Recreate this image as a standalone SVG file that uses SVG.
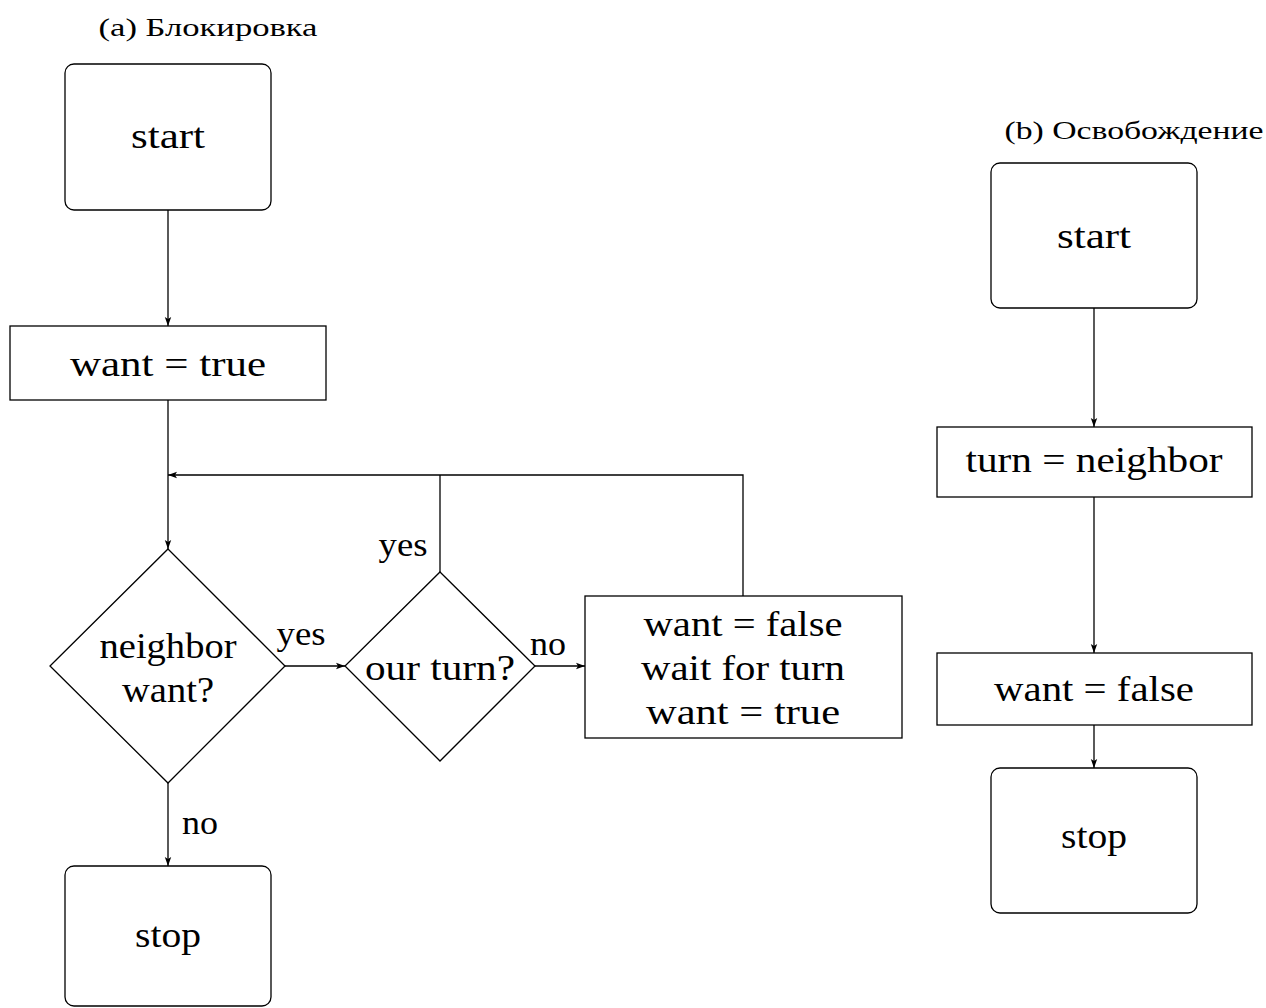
<svg xmlns="http://www.w3.org/2000/svg" width="1266" height="1008" viewBox="0 0 1266 1008">
  <style>
    .shape { fill: #ffffff; stroke: #000000; stroke-width: 1.3; }
    .edge { fill: none; stroke: #000000; stroke-width: 1.3; }
    .t { font-family: "Liberation Serif", "DejaVu Serif", serif; font-size: 36px; fill: #000000; text-anchor: middle; }
    .lbl { font-family: "Liberation Serif", "DejaVu Serif", serif; font-size: 34px; fill: #000000; text-anchor: middle; }
    .title { font-family: "Liberation Serif", "DejaVu Serif", serif; font-size: 26px; fill: #000000; text-anchor: middle; }
  </style>
  <defs>
    <marker id="tip" markerUnits="userSpaceOnUse" markerWidth="10" markerHeight="8" refX="9" refY="4" orient="auto">
      <path d="M0,0.8 L9,4 L0,7.2 L2,4 Z" fill="#000000"/>
    </marker>
  </defs>

  <rect width="1266" height="1008" fill="#ffffff"/>

  <!-- (a) locking flowchart -->
  <text class="title" x="208" y="36" textLength="219" lengthAdjust="spacingAndGlyphs">(a) Блокировка</text>

  <g id="connectors">
    <line class="edge" x1="168" y1="210" x2="168" y2="326" marker-end="url(#tip)"/>
    <line class="edge" x1="168" y1="400" x2="168" y2="549" marker-end="url(#tip)"/>
    <polyline class="edge" points="743,596 743,475 168,475" marker-end="url(#tip)"/>
    <line class="edge" x1="440" y1="572" x2="440" y2="475"/>
    <line class="edge" x1="285" y1="666" x2="345" y2="666" marker-end="url(#tip)"/>
    <line class="edge" x1="535" y1="666" x2="585" y2="666" marker-end="url(#tip)"/>
    <line class="edge" x1="168" y1="783" x2="168" y2="866" marker-end="url(#tip)"/>
    <line class="edge" x1="1094" y1="308" x2="1094" y2="427" marker-end="url(#tip)"/>
    <line class="edge" x1="1094" y1="497" x2="1094" y2="653" marker-end="url(#tip)"/>
    <line class="edge" x1="1094" y1="725" x2="1094" y2="768" marker-end="url(#tip)"/>
    <text class="lbl" x="403" y="556" textLength="49" lengthAdjust="spacingAndGlyphs">yes</text>
    <text class="lbl" x="301" y="645" textLength="49" lengthAdjust="spacingAndGlyphs">yes</text>
    <text class="lbl" x="548" y="655" textLength="36" lengthAdjust="spacingAndGlyphs">no</text>
    <text class="lbl" x="200" y="834" textLength="36" lengthAdjust="spacingAndGlyphs">no</text>
  </g>

  <g id="a-start">
    <rect class="shape" x="65" y="64" width="206" height="146" rx="9"/>
    <text class="t" x="168" y="148" textLength="74" lengthAdjust="spacingAndGlyphs">start</text>
  </g>
  <g id="a-want-true">
    <rect class="shape" x="10" y="326" width="316" height="74"/>
    <text class="t" x="168" y="376" textLength="196" lengthAdjust="spacingAndGlyphs">want = true</text>
  </g>
  <g id="a-neighbor-want">
    <polygon class="shape" points="168,549 285,666 168,783 50,666"/>
    <text class="t" x="168" y="658" textLength="137" lengthAdjust="spacingAndGlyphs">neighbor</text>
    <text class="t" x="168" y="702" textLength="92" lengthAdjust="spacingAndGlyphs">want?</text>
  </g>
  <g id="a-our-turn">
    <polygon class="shape" points="440,572 535,666 440,761 345,666"/>
    <text class="t" x="440" y="680" textLength="150" lengthAdjust="spacingAndGlyphs">our turn?</text>
  </g>
  <g id="a-wait">
    <rect class="shape" x="585" y="596" width="317" height="142"/>
    <text class="t" x="743" y="636" textLength="199" lengthAdjust="spacingAndGlyphs">want = false</text>
    <text class="t" x="743" y="680" textLength="204" lengthAdjust="spacingAndGlyphs">wait for turn</text>
    <text class="t" x="743" y="724" textLength="194" lengthAdjust="spacingAndGlyphs">want = true</text>
  </g>
  <g id="a-stop">
    <rect class="shape" x="65" y="866" width="206" height="140" rx="9"/>
    <text class="t" x="168" y="947" textLength="66" lengthAdjust="spacingAndGlyphs">stop</text>
  </g>

  <!-- (b) unlocking flowchart -->
  <text class="title" x="1134" y="139" textLength="259" lengthAdjust="spacingAndGlyphs">(b) Освобождение</text>

  <g id="b-start">
    <rect class="shape" x="991" y="163" width="206" height="145" rx="9"/>
    <text class="t" x="1094" y="248" textLength="74" lengthAdjust="spacingAndGlyphs">start</text>
  </g>
  <g id="b-turn-neighbor">
    <rect class="shape" x="937" y="427" width="315" height="70"/>
    <text class="t" x="1094" y="472" textLength="257" lengthAdjust="spacingAndGlyphs">turn = neighbor</text>
  </g>
  <g id="b-want-false">
    <rect class="shape" x="937" y="653" width="315" height="72"/>
    <text class="t" x="1094" y="701" textLength="200" lengthAdjust="spacingAndGlyphs">want = false</text>
  </g>
  <g id="b-stop">
    <rect class="shape" x="991" y="768" width="206" height="145" rx="9"/>
    <text class="t" x="1094" y="848" textLength="66" lengthAdjust="spacingAndGlyphs">stop</text>
  </g>
</svg>
